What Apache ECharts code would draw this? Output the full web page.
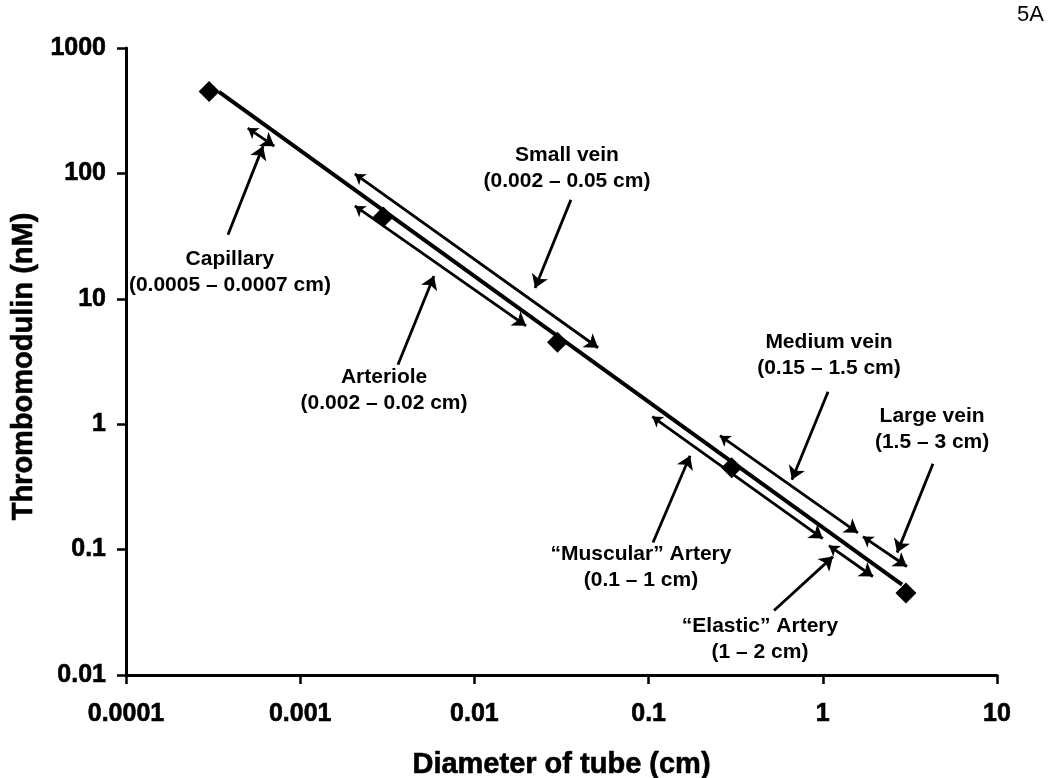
<!DOCTYPE html>
<html>
<head>
<meta charset="utf-8">
<script src="https://cdn.jsdelivr.net/npm/echarts@6/dist/echarts.min.js"></script>
<style>
  html, body { margin: 0; padding: 0; background: #fff; }
  #chart { width: 1050px; height: 778px; }
</style>
</head>
<body>
<div id="chart"></div>
<script>
// tick labels
var xTicks = ['0.0001', '0.001', '0.01', '0.1', '1', '10']
var yTicks = ['0.01', '0.1', '1', '10', '100', '1000']

// measured points (diameter cm, thrombomodulin nM)
var points = [[0.0003, 450], [0.003, 45], [0.03, 4.5], [0.3, 0.45], [3, 0.045]]
// trend line as drawn (sits slightly above the markers)
var fitLine = [[0.000342, 446], [2.85, 0.0525]]

// double arrows (vessel ranges)
var rangeArrows = [
  [[0.0005, 230], [0.00071, 165]],
  [[0.00206, 99], [0.0513, 4.07]],
  [[0.00206, 55], [0.0198, 6.09]],
  [[0.105, 1.15], [1.0, 0.1225]],
  [[0.257, 0.81], [1.59, 0.136]],
  [[1.70, 0.127], [3.04, 0.0733]],
  [[1.085, 0.1076], [1.94, 0.061]]
]

// pointer arrows from labels
var pointerArrows = [
  [[0.000385, 32.4], [0.000612, 165]],
  [[0.0358, 61.5], [0.0223, 12.2]],
  [[0.00364, 2.98], [0.00586, 15.2]],
  [[0.106, 0.114], [0.173, 0.561]],
  [[1.072, 1.815], [0.665, 0.361]],
  [[4.29, 0.484], [2.67, 0.0946]],
  [[0.525, 0.0327], [1.144, 0.0879]]
]

// labels
var labelNames = [
  'Capillary\n(0.0005 – 0.0007 cm)',
  'Small vein\n(0.002 – 0.05 cm)',
  'Arteriole\n(0.002 – 0.02 cm)',
  'Medium vein\n(0.15 – 1.5 cm)',
  'Large vein\n(1.5 – 3 cm)',
  '“Muscular” Artery\n(0.1 – 1 cm)',
  '“Elastic” Artery\n(1 – 2 cm)'
]
var labelPos = [
  [0.000395, 16.4],
  [0.034, 110.6],
  [0.00303, 1.88],
  [1.085, 3.58],
  [4.24, 0.92],
  [0.0904, 0.072],
  [0.436, 0.0192]
]

var font = 'Liberation Sans, Arial, sans-serif'
var mychart = echarts.init(document.getElementById('chart'))

function decadeLabel(list, v) {
  var i = Math.round(Math.log10(v))
  return list[i - Math.round(Math.log10(Number(list[0])))]
}

var option = {
  backgroundColor: '#fff',
  animation: false,
  grid: { left: 126, right: 53, top: 48, bottom: 103, outerBoundsMode: 'none', containLabel: false },
  graphic: [
    {
      type: 'text',
      right: 6,
      top: 4,
      style: { text: '5A', fontSize: 22, fontFamily: font, fill: '#000' }
    }
  ],
  xAxis: {
    type: 'log',
    logBase: 10,
    min: 0.0001,
    max: 10,
    name: 'Diameter of tube (cm)',
    nameLocation: 'middle',
    nameGap: 75,
    nameTextStyle: {
      fontSize: 29, fontWeight: 'bold', fontFamily: font, color: '#000',
      textBorderColor: '#000', textBorderWidth: 0.6
    },
    axisLine: { lineStyle: { color: '#000', width: 3 } },
    axisTick: { show: true, length: 9, lineStyle: { color: '#000', width: 2.5 } },
    minorTick: { show: false },
    splitLine: { show: false },
    axisLabel: {
      margin: 27,
      fontSize: 25,
      fontWeight: 'bold',
      fontFamily: font,
      color: '#000',
      textBorderColor: '#000',
      textBorderWidth: 0.6,
      formatter: function (v) { return decadeLabel(xTicks, v) }
    }
  },
  yAxis: {
    type: 'log',
    logBase: 10,
    min: 0.01,
    max: 1000,
    name: 'Thrombomodulin (nM)',
    nameLocation: 'middle',
    nameRotate: 90,
    nameGap: 88,
    nameTextStyle: {
      fontSize: 29, fontWeight: 'bold', fontFamily: font, color: '#000',
      textBorderColor: '#000', textBorderWidth: 0.6,
      padding: [0, 10, 0, 0]
    },
    axisLine: { show: true, lineStyle: { color: '#000', width: 3 } },
    axisTick: { show: true, length: 9, lineStyle: { color: '#000', width: 2.5 } },
    minorTick: { show: false },
    splitLine: { show: false },
    axisLabel: {
      margin: 20,
      fontSize: 25,
      fontWeight: 'bold',
      fontFamily: font,
      color: '#000',
      textBorderColor: '#000',
      textBorderWidth: 0.6,
      formatter: function (v) { return decadeLabel(yTicks, v) }
    }
  },
  series: [
    {
      type: 'line',
      data: fitLine,
      symbol: 'none',
      lineStyle: { color: '#000', width: 4 },
      z: 3
    },
    {
      type: 'scatter',
      data: points,
      symbol: 'diamond',
      symbolSize: 21,
      itemStyle: { color: '#000', opacity: 1 },
      z: 4
    },
    {
      type: 'lines',
      coordinateSystem: 'cartesian2d',
      data: rangeArrows.map(function (c) { return { coords: c } }),
      symbol: ['arrow', 'arrow'],
      symbolSize: [10, 13],
      lineStyle: { color: '#000', width: 2.8, opacity: 1 },
      z: 5
    },
    {
      type: 'lines',
      coordinateSystem: 'cartesian2d',
      data: pointerArrows.map(function (c) { return { coords: c } }),
      symbol: ['none', 'arrow'],
      symbolSize: [10, 13],
      lineStyle: { color: '#000', width: 2.8, opacity: 1 },
      z: 5
    },
    {
      type: 'scatter',
      data: labelPos.map(function (p, i) { return { value: p, name: labelNames[i] } }),
      symbolSize: 0,
      silent: true,
      itemStyle: { opacity: 1 },
      label: {
        show: true,
        position: 'inside',
        formatter: '{b}',
        fontSize: 21,
        fontWeight: 'bold',
        fontFamily: font,
        color: '#000',
        opacity: 1,
        lineHeight: 26,
        align: 'center',
        verticalAlign: 'middle'
      },
      z: 6
    }
  ]
}
mychart.setOption(option)
</script>
</body>
</html>
